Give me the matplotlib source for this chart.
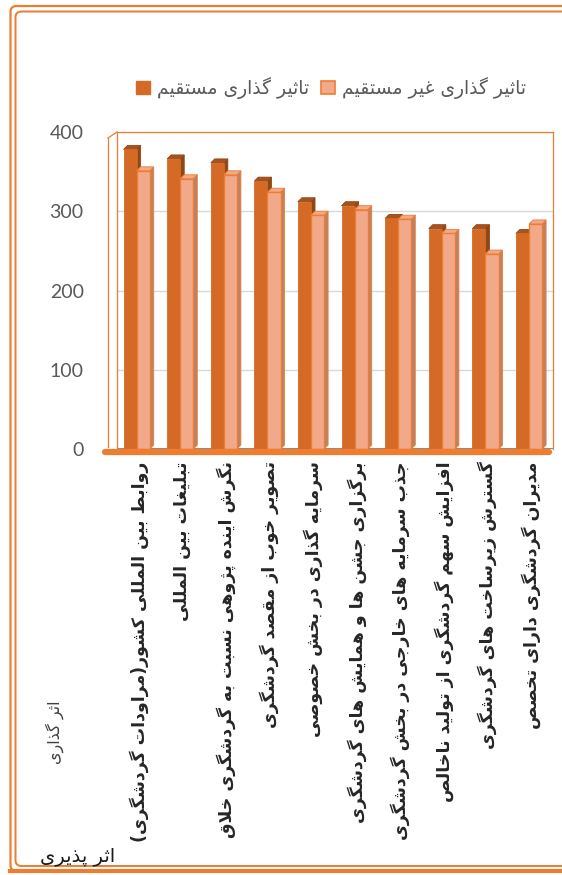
import matplotlib
matplotlib.use("Agg")
import matplotlib.pyplot as plt
from matplotlib.patches import Patch, Polygon, FancyBboxPatch
from matplotlib.lines import Line2D
import matplotlib.transforms as mtransforms
import numpy as np

# ---------------- data ----------------
categories = [
    "روابط بین المللی کشور(مراودات گردشگری)",
    "تبلیغات بین المللی",
    "نگرش اینده پژوهی نسبت به گردشگری خلاق",
    "تصویر خوب از مقصد گردشگری",
    "سرمایه گذاری در بخش خصوصی",
    "برگزاری جشن ها و همایش های گردشگری",
    "جذب سرمایه های خارجی در بخش گردشگری",
    "افزایش سهم گردشگری از تولید ناخالص",
    "گسترش زیرساخت های گردشگری",
    "مدیران گردشگری دارای تخصص",
]
direct = [378, 366, 361, 338, 312, 307, 291, 278, 278, 272]
indirect = [351, 341, 346, 324, 295, 302, 290, 272, 246, 284]
series_names = ["تاثیر گذاری مستقیم", "تاثیر گذاری غیر مستقیم"]
y_ticks = [0, 100, 200, 300, 400]
x_title = "اثر پذیری"
y_title = "اثر گذاری"

# ------------- minimal Arabic/Persian shaping (matplotlib has no CTL) -------------
_DUAL = {'ب': 0xFE8F, 'ت': 0xFE95, 'ث': 0xFE99, 'ج': 0xFE9D, 'ح': 0xFEA1, 'خ': 0xFEA5,
         'س': 0xFEB1, 'ش': 0xFEB5, 'ص': 0xFEB9, 'ض': 0xFEBD, 'ط': 0xFEC1, 'ظ': 0xFEC5,
         'ع': 0xFEC9, 'غ': 0xFECD, 'ف': 0xFED1, 'ق': 0xFED5, 'ك': 0xFED9, 'ل': 0xFEDD,
         'م': 0xFEE1, 'ن': 0xFEE5, 'ه': 0xFEE9, 'ي': 0xFEF1, 'ئ': 0xFE89, 'پ': 0xFB56,
         'چ': 0xFB7A, 'ک': 0xFB8E, 'گ': 0xFB92, 'ی': 0xFBFC}
_RIGHT = {'ا': 0xFE8D, 'آ': 0xFE81, 'أ': 0xFE83, 'إ': 0xFE87, 'ؤ': 0xFE85, 'د': 0xFEA9,
          'ذ': 0xFEAB, 'ر': 0xFEAD, 'ز': 0xFEAF, 'و': 0xFEED, 'ة': 0xFE93, 'ژ': 0xFB8A}
_LAMALEF = {'ا': 0xFEFB, 'آ': 0xFEF5, 'أ': 0xFEF7, 'إ': 0xFEF9}


def shape(text):
    chars = list(text)
    n = len(chars)
    out = []
    i = 0
    while i < n:
        c = chars[i]
        if c == '\u200c':
            i += 1
            continue
        if c not in _DUAL and c not in _RIGHT:
            out.append(c)
            i += 1
            continue
        prev = chars[i - 1] if i > 0 else None
        jp = prev in _DUAL
        if c == 'ل' and i + 1 < n and chars[i + 1] in _LAMALEF:
            base = _LAMALEF[chars[i + 1]]
            out.append(chr(base + (1 if jp else 0)))
            i += 2
            continue
        nxt = chars[i + 1] if i + 1 < n else None
        if c in _DUAL:
            base = _DUAL[c]
            jn = nxt is not None and (nxt in _DUAL or nxt in _RIGHT)
        else:
            base = _RIGHT[c]
            jn = False
        if jp and jn:
            k = 3
        elif jp:
            k = 1
        elif jn:
            k = 2
        else:
            k = 0
        out.append(chr(base + k))
        i += 1
    vis = ''.join(out)[::-1]
    return vis.translate(str.maketrans('()', ')('))


AR = ['DejaVu Sans']
ORANGE = '#ED7D31'
DARK = '#D46A26'
DARK_TOP = '#A8531C'
DARK_SIDE = '#8E4717'
LIGHT = '#F2A98A'
LIGHT_SIDE = '#B9826A'

W, H = 562, 875
fig = plt.figure(figsize=(W / 100, H / 100), dpi=100)
fig.patch.set_facecolor('white')


def fx(px):
    return px / W


def fy(py):
    return 1 - py / H


ax_l, ax_r, ax_t, ax_b = 117, 553, 132, 449
ax = fig.add_axes([fx(ax_l), fy(ax_b), fx(ax_r - ax_l), (ax_b - ax_t) / H])
ax.set_xlim(-0.5, len(categories) - 0.5)
ax.set_ylim(0, 400)
ax.set_yticks(y_ticks)
ax.grid(axis='y', color='#D9D9D9', linewidth=1.0, zorder=0)
ax.set_axisbelow(True)
for s in ['left', 'top', 'right']:
    ax.spines[s].set_color(ORANGE)
    ax.spines[s].set_linewidth(0.9)
ax.spines['bottom'].set_visible(False)
ax.axhline(0, color='#7F7F7F', linewidth=2.0, zorder=1)

x = np.arange(len(categories))
bw = 0.3
b1 = ax.bar(x - 0.2, direct, bw, color=DARK, edgecolor=DARK, linewidth=0.6, zorder=2)
b2 = ax.bar(x + 0.1, indirect, bw, color=LIGHT, edgecolor=ORANGE, linewidth=1.0, zorder=4)

# faux 3D depth faces derived from the bar geometry
ddx = 4 * (ax.get_xlim()[1] - ax.get_xlim()[0]) / (ax_r - ax_l)
ddy = 4 * 400 / (ax_b - ax_t)


def depth(bars, side_c, top_c, edge, z):
    for r in bars:
        x0, w, h = r.get_x(), r.get_width(), r.get_height()
        side = Polygon([(x0 + w, 0), (x0 + w + ddx, ddy), (x0 + w + ddx, h + ddy), (x0 + w, h)],
                       closed=True, facecolor=side_c, edgecolor=edge, linewidth=0.6, zorder=z, clip_on=False)
        top = Polygon([(x0, h), (x0 + ddx, h + ddy), (x0 + w + ddx, h + ddy), (x0 + w, h)],
                      closed=True, facecolor=top_c, edgecolor=edge, linewidth=0.6, zorder=z, clip_on=False)
        ax.add_patch(side)
        ax.add_patch(top)


depth(b1, DARK_SIDE, DARK_TOP, DARK_SIDE, 1.9)
depth(b2, LIGHT_SIDE, LIGHT, ORANGE, 3.9)

ax.tick_params(axis='y', length=0, pad=24, labelsize=14, labelcolor='#595959')
for lab in ax.get_yticklabels():
    lab.set_fontfamily(['Lato', 'DejaVu Sans'])
ax.set_xticks(x)
ax.set_xticklabels([shape(c) for c in categories], rotation=90, ha='center', va='top',
                   fontsize=12.5, fontweight='bold', color='#262626', family=AR)
ax.tick_params(axis='x', length=0, pad=9)

# side wall and thick floor edge (decoration)
fig.add_artist(Line2D([fx(108), fx(108)], [fy(447), fy(138)], color=ORANGE, lw=0.9))
fig.add_artist(Line2D([fx(108), fx(ax_l)], [fy(138), fy(ax_t)], color=ORANGE, lw=0.9))
fig.add_artist(Line2D([fx(105), fx(549)], [fy(452), fy(452)], color=ORANGE, lw=4.5,
                      solid_capstyle='round'))

# legend
handles = [Patch(facecolor=DARK, edgecolor=DARK), Patch(facecolor=LIGHT, edgecolor=ORANGE, linewidth=1.2)]
leg = fig.legend(handles, [shape(s) for s in series_names], loc='center',
                 bbox_to_anchor=(fx(331), fy(88)), ncol=2, frameon=False,
                 handlelength=0.75, handleheight=0.75, columnspacing=0.6,
                 handletextpad=0.4, labelcolor='#595959', prop={'family': AR, 'size': 13.5})

# axis titles
fig.text(fx(55), fy(732), shape(y_title), rotation=90, ha='center', va='center',
         fontsize=11.5, color='#404040', family=AR)
fig.text(fx(78), fy(857), shape(x_title), ha='center', va='center',
         fontsize=14, color='#1a1a1a', family=AR)

# double orange border (open to the right)
idt = mtransforms.IdentityTransform()
for (l, t, b, lw) in [(10.5, 6, 871, 2.2), (15.5, 11.5, 866, 2.0)]:
    fig.add_artist(FancyBboxPatch((l, H - b), 700, b - t,
                                  boxstyle='round,pad=0,rounding_size=6',
                                  facecolor='none', edgecolor=ORANGE, linewidth=lw * 0.72,
                                  transform=idt))
fig.add_artist(Line2D([fx(10), 1.0], [fy(871), fy(871)], color=ORANGE, lw=3.0))

fig.savefig('out.png', dpi=100)
